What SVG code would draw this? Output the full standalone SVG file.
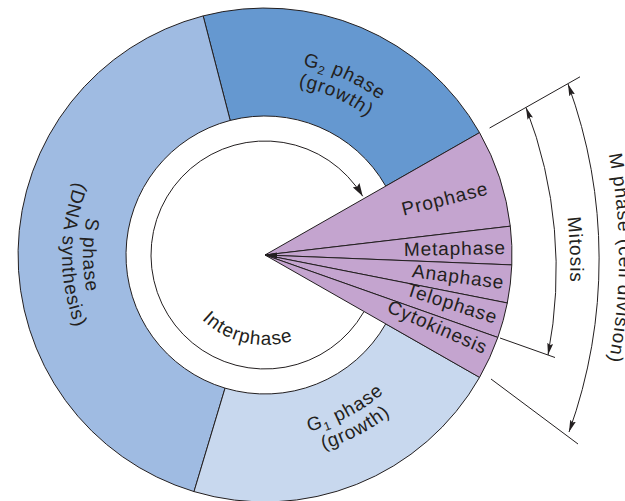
<svg xmlns="http://www.w3.org/2000/svg" width="625" height="501" viewBox="0 0 625 501">
<style>
.ring{stroke:#231f20;stroke-width:1}
.ph{fill:#c4a4cf;stroke:#231f20;stroke-width:1;stroke-linejoin:bevel}
.t{font-family:"Liberation Sans",Arial,Helvetica,sans-serif;font-size:19px;letter-spacing:0.9px;fill:#231f20}
.ln{fill:none;stroke:#231f20;stroke-width:1}
</style>
<defs>
<marker id="ah" viewBox="0 0 12 6" refX="12" refY="3" markerWidth="12" markerHeight="6" orient="auto-start-reverse" markerUnits="userSpaceOnUse"><path d="M0,0 L12,3 L0,6 L2,3 Z" fill="#231f20"/></marker>
<marker id="ahb" viewBox="0 0 13 8" refX="13" refY="4" markerWidth="13" markerHeight="8" orient="auto" markerUnits="userSpaceOnUse"><path d="M0,0 L13,4 L0,8 L2,4 Z" fill="#231f20"/></marker>
<path id="pG2a" d="M211.81,69.47 A193 193 0 0 1 438.47,170.39"/>
<path id="pG2b" d="M217.60,89.66 A172 172 0 0 1 419.59,179.60"/>
<path id="pG1a" d="M225.62,432.69 A182 182 0 0 0 433.15,324.65"/>
<path id="pG1b" d="M221.07,453.19 A203 203 0 0 0 452.55,332.69"/>
<path id="pSa" d="M125.58,138.01 A182 182 0 0 0 125.58,371.99"/>
<path id="pSb" d="M109.49,124.51 A203 203 0 0 0 109.49,385.49"/>
<path id="pInt" d="M193.12,309.16 A90 90 0 0 0 305.86,335.19"/>
<path id="pMit" d="M518.3,55.9 A464 464 0 0 1 534.6,447.7"/>
<path id="pM" d="M569.3,34.0 A530 530 0 0 1 569.3,482.0"/>
</defs>
<rect width="625" height="501" fill="#ffffff"/>

<g id="g2-phase">
<path class="ring" fill="#6598d0" d="M203.15,15.9 A247 247 0 0 1 479.54,132.61 L385.74,186.13 A139 139 0 0 0 230.19,120.43 Z"/>
<text class="t"><textPath href="#pG2a" startOffset="50%" text-anchor="middle">G<tspan font-size="12" dy="4">2</tspan><tspan dy="-4"> phase</tspan></textPath></text>
<text class="t"><textPath href="#pG2b" startOffset="50%" text-anchor="middle">(growth)</textPath></text>
</g>
<g id="s-phase">
<path class="ring" fill="#9fbbe2" d="M194.01,491.58 A247 247 0 0 1 203.15,15.9 L230.19,120.43 A139 139 0 0 0 225.05,388.13 Z"/>
<text class="t"><textPath href="#pSa" startOffset="50%" text-anchor="middle">S phase</textPath></text>
<text class="t"><textPath href="#pSb" startOffset="50%" text-anchor="middle">(DNA synthesis)</textPath></text>
</g>
<g id="g1-phase">
<path class="ring" fill="#c8d8ee" d="M479.54,377.39 A247 247 0 0 1 194.01,491.58 L225.05,388.13 A139 139 0 0 0 385.74,323.87 Z"/>
<text class="t"><textPath href="#pG1a" startOffset="50%" text-anchor="middle">G<tspan font-size="12" dy="4">1</tspan><tspan dy="-4"> phase</tspan></textPath></text>
<text class="t"><textPath href="#pG1b" startOffset="50%" text-anchor="middle">(growth)</textPath></text>
</g>

<g id="interphase">
<text class="t"><textPath href="#pInt" startOffset="50%" text-anchor="middle">Interphase</textPath></text>
</g>

<g id="prophase">
<path class="ph" d="M265,255 L479.54,132.61 A247 247 0 0 1 510.31,226.18 Z"/>
<text class="t" text-anchor="middle" transform="translate(446.5,205) rotate(-14)">Prophase</text>
</g>
<g id="metaphase">
<path class="ph" d="M265,255 L510.31,226.18 A247 247 0 0 1 511.80,264.91 Z"/>
<text class="t" text-anchor="middle" transform="translate(455,255) rotate(-1)">Metaphase</text>
</g>
<g id="anaphase">
<path class="ph" d="M265,255 L511.80,264.91 A247 247 0 0 1 507.30,302.97 Z"/>
<text class="t" text-anchor="middle" transform="translate(457.5,283) rotate(7.5)">Anaphase</text>
</g>
<g id="telophase">
<path class="ph" d="M265,255 L507.30,302.97 A247 247 0 0 1 497.83,337.45 Z"/>
<text class="t" text-anchor="middle" transform="translate(450,309.5) rotate(17.8)">Telophase</text>
</g>
<g id="cytokinesis">
<path class="ph" d="M265,255 L497.83,337.45 A247 247 0 0 1 479.54,377.39 Z"/>
<text class="t" text-anchor="middle" transform="translate(435,333) rotate(23.6)">Cytokinesis</text>
</g>
<polygon points="265,255 277,252.6 277,258.4" fill="#231f20"/>

<g id="mitosis">
<text class="t"><textPath href="#pMit" startOffset="50%" text-anchor="middle">Mitosis</textPath></text>
</g>
<g id="m-phase">
<text class="t"><textPath href="#pM" startOffset="50%" text-anchor="middle">M phase (cell division)</textPath></text>
</g>

<g id="connectors">
<path class="ln" marker-end="url(#ahb)" d="M363.73,312.0 A114 114 0 1 1 362.72,196.28"/>
<path class="ln" d="M489.6,128 L580,76.8"/>
<path class="ln" d="M500,338 L555,357.5"/>
<path class="ln" d="M491,379 L578,444"/>
<path class="ln" marker-start="url(#ah)" marker-end="url(#ah)" d="M526,107.5 A450 450 0 0 1 548,355"/>
<path class="ln" marker-start="url(#ah)" marker-end="url(#ah)" d="M568,84 A510 510 0 0 1 569,432"/>
</g>
</svg>
